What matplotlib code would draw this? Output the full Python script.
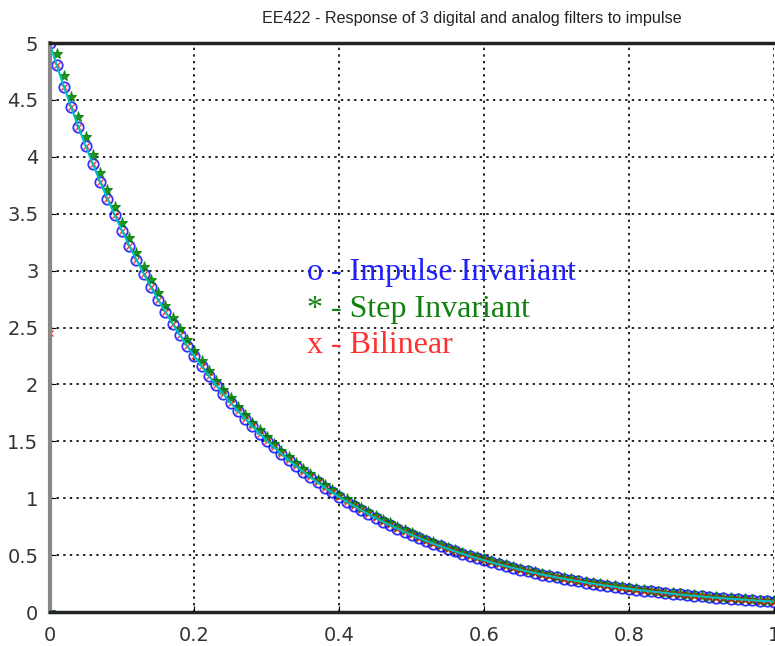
import matplotlib
matplotlib.use("Agg")
import matplotlib.pyplot as plt

# sample times, T = 0.01 s
t = [round(0.01 * n, 2) for n in range(101)]

# analog response (cyan line); impulse-invariant samples sit on it
analog = [
    5.000, 4.804, 4.616, 4.435, 4.261, 4.094, 3.933, 3.779, 3.631, 3.488,
    3.352, 3.220, 3.094, 2.973, 2.856, 2.744, 2.637, 2.533, 2.434, 2.338,
    2.247, 2.159, 2.074, 1.993, 1.914, 1.839, 1.767, 1.698, 1.631, 1.567,
    1.506, 1.447, 1.390, 1.336, 1.283, 1.233, 1.185, 1.138, 1.094, 1.051,
    1.010, 0.970, 0.932, 0.895, 0.860, 0.827, 0.794, 0.763, 0.733, 0.704,
    0.677, 0.650, 0.625, 0.600, 0.577, 0.554, 0.532, 0.511, 0.491, 0.472,
    0.454, 0.436, 0.419, 0.402, 0.387, 0.371, 0.357, 0.343, 0.329, 0.317,
    0.304, 0.292, 0.281, 0.270, 0.259, 0.249, 0.239, 0.230, 0.221, 0.212,
    0.204, 0.196, 0.188, 0.181, 0.174, 0.167, 0.160, 0.154, 0.148, 0.142,
    0.137, 0.131, 0.126, 0.121, 0.116, 0.112, 0.108, 0.103, 0.099, 0.095,
    0.092,
]
impulse_inv = analog

step_inv = [
    0.000, 4.901, 4.709, 4.525, 4.347, 4.177, 4.013, 3.855, 3.704, 3.559,
    3.420, 3.285, 3.157, 3.033, 2.914, 2.800, 2.690, 2.584, 2.483, 2.386,
    2.292, 2.202, 2.116, 2.033, 1.953, 1.877, 1.803, 1.732, 1.664, 1.599,
    1.536, 1.476, 1.418, 1.363, 1.309, 1.258, 1.209, 1.161, 1.116, 1.072,
    1.030, 0.990, 0.951, 0.914, 0.878, 0.843, 0.810, 0.778, 0.748, 0.719,
    0.690, 0.663, 0.637, 0.612, 0.588, 0.565, 0.543, 0.522, 0.501, 0.482,
    0.463, 0.445, 0.427, 0.410, 0.394, 0.379, 0.364, 0.350, 0.336, 0.323,
    0.310, 0.298, 0.286, 0.275, 0.264, 0.254, 0.244, 0.234, 0.225, 0.216,
    0.208, 0.200, 0.192, 0.184, 0.177, 0.170, 0.164, 0.157, 0.151, 0.145,
    0.139, 0.134, 0.129, 0.124, 0.119, 0.114, 0.110, 0.105, 0.101, 0.097,
    0.093,
]

# bilinear: half-height first sample, then follows the analog curve
bilinear = [2.451] + analog[1:]

xticks = [0, 0.2, 0.4, 0.6, 0.8, 1]
xticklabels = ["0", "0.2", "0.4", "0.6", "0.8", "1"]
yticks = [0, 0.5, 1, 1.5, 2, 2.5, 3, 3.5, 4, 4.5, 5]
yticklabels = ["0", "0.5", "1", "1.5", "2", "2.5", "3", "3.5", "4", "4.5", "5"]

fig = plt.figure(figsize=(7.75, 6.46), dpi=100)
ax = fig.add_axes([49.5 / 775, 34 / 646, 724.5 / 775, 569 / 646])

ax.plot(t, impulse_inv, "o", color="#0000ff", mfc="none", ms=7.5, mew=1.3, alpha=0.8)
ax.plot(t, step_inv, "*", color="#008000", ms=8, mew=0.8, alpha=0.85)
ax.plot(t, bilinear, "x", color="#ff0000", ms=4.5, mew=1.0, alpha=0.8)
ax.plot(t, analog, "-", color="#00c0c0", lw=1.5)

ax.set_xlim(0, 1)
ax.set_ylim(0, 5)
ax.set_xticks(xticks)
ax.set_xticklabels(xticklabels)
ax.set_yticks(yticks)
ax.set_yticklabels(yticklabels)
ax.tick_params(direction="in", length=4, labelsize=14, labelcolor="#333333",
               color="black")
ax.tick_params(axis="x", pad=10)
ax.tick_params(axis="y", pad=8)

ax.grid(True, color="#222222", linestyle=(0, (1.2, 2.2)), linewidth=1.4)

ax.spines["right"].set_visible(False)
ax.spines["left"].set_color("#888888")
ax.spines["left"].set_linewidth(3)
for side in ["top", "bottom"]:
    ax.spines[side].set_color("#222222")
    ax.spines[side].set_linewidth(2.5)

serif = ["Liberation Serif", "DejaVu Serif"]
ax.text(0.356, 2.98, "o - Impulse Invariant", color="#2020ff", fontsize=23,
        family=serif, va="center")
ax.text(0.356, 2.66, "* - Step Invariant", color="#108010", fontsize=23,
        family=serif, va="center")
ax.text(0.356, 2.34, "x - Bilinear", color="#ff3030", fontsize=23,
        family=serif, va="center")

fig.text(472 / 775, 1 - 19 / 646,
         "EE422 - Response of 3 digital and analog filters to impulse",
         fontsize=11.6, color="#222222", ha="center", va="center",
         family=["Liberation Sans", "DejaVu Sans"])

fig.savefig("out.png", dpi=100)
